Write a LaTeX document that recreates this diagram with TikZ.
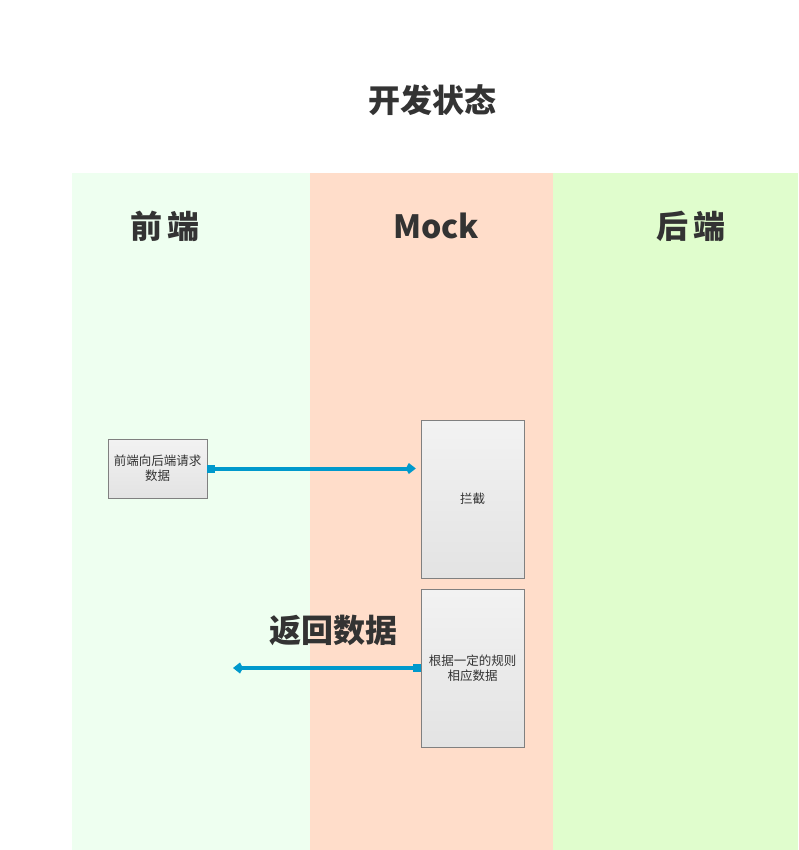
\documentclass[tikz,border=0pt]{standalone}
\usepackage{fontspec}
\setmainfont{Noto Sans CJK SC}
\usetikzlibrary{positioning, arrows.meta, calc}

\definecolor{laneFront}{HTML}{EEFFF0}
\definecolor{laneMock}{HTML}{FFDDCA}
\definecolor{laneBack}{HTML}{E0FDCD}
\definecolor{flowBlue}{HTML}{0099CC}
\definecolor{textGray}{HTML}{333333}

\begin{document}
\begin{tikzpicture}[
    x=1pt, y=-1pt,                       % 以像素为单位，y 向下
    >=Stealth,
    title/.style={font=\fontsize{32}{36}\selectfont\bfseries, text=textGray},
    box/.style={draw=black!50, top color=black!5, bottom color=black!11,
                font=\fontsize{12.5}{15}\selectfont, text=textGray,
                align=center, inner sep=0pt},
    flow/.style={flowBlue, line width=4pt,
                 {Square[length=8pt,width=8pt,line width=0pt]}-{Kite[length=10pt,width=11pt,inset=3pt,line width=0pt]}}
]
    \useasboundingbox (0,0) rectangle (798,850);

    % --- 1. 泳道背景 ---
    \fill [laneFront] (72,173) rectangle (310,850);
    \fill [laneMock]  (310,173) rectangle (553,850);
    \fill [laneBack]  (553,173) rectangle (798,850);

    % --- 2. 标题 ---
    \node [title] (state) at (432,100) {开发状态};
    \node [title] (front) at (165,226) {前\,端};
    \node [title] (mock) at (436,226) {Mock};
    \node [title] (back)  at (691,226) {后\,端};

    % --- 3. 方框 ---
    \node [box, minimum width=99, minimum height=59] (req) at (157.5,468.5)
        {前端向后端请求\\数据};
    \node [box, minimum width=103, minimum height=158] (intercept) at (472.5,499)
        {拦截};
    \node [box, minimum width=103, minimum height=158] (rule) at (472.5,668)
        {根据一定的规则\\相应数据};

    % --- 4. 请求与返回 ---
    \draw [flow, shorten >=5pt] (req.east) -- (req.east -| intercept.west);
    \coordinate (ret) at (233,668);
    \draw [flow] (rule.west) -- (ret);
    \node [title] (retlabel) at (333,630) {返回数据};

\end{tikzpicture}
\end{document}
